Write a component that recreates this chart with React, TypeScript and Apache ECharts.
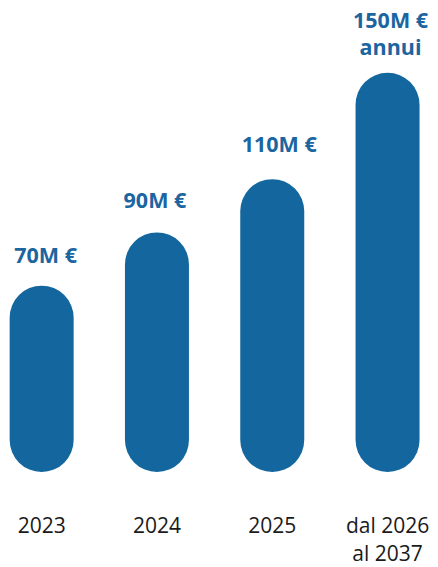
import React, { useEffect, useRef } from "react";
import * as echarts from "echarts";

const categories = ["2023", "2024", "2025", "dal 2026\nal 2037"];
const values = [70, 90, 110, 150];
const valueLabels = ["70M €", "90M €", "110M €", "150M €\nannui"];

const labelDistance = [18, 19, 22, 13];
const labelShiftX = [4, -2, 7, 3];

const SHIFT = 30;

export default function App() {
  const ref = useRef<HTMLDivElement>(null);
  useEffect(() => {
    if (!ref.current) return;
    const chart = echarts.init(ref.current, null, { renderer: "svg" });
    chart.setOption({
      animation: false,
      grid: { left: 14, width: 461.2, top: 72.7, bottom: 93.7, containLabel: false },
      xAxis: {
        type: "category",
        data: categories,
        axisLine: { show: false },
        axisTick: { show: false },
        axisLabel: {
          margin: 39,
          fontFamily: "Open Sans",
          fontSize: 21,
          lineHeight: 28,
          color: "#1a1a1a",
        },
      },
      yAxis: {
        type: "value",
        min: 0,
        max: 150,
        show: false,
        splitLine: { show: false },
      },
      series: [
        {
          type: "bar",
          barWidth: 64,
          itemStyle: { color: "#13679e", borderRadius: 32 },
          data: values.map((v, i) => ({
            value: v,
            label: { distance: labelDistance[i], offset: [labelShiftX[i], 0] },
          })),
          label: {
            show: true,
            position: "top",
            fontFamily: "Open Sans",
            fontWeight: "bold",
            fontSize: 21.5,
            lineHeight: 27,
            color: "#1b65a0",
            formatter: (p: any) => valueLabels[p.dataIndex],
          },
        },
      ],
    });
    return () => chart.dispose();
  }, []);
  return (
    <div
      ref={ref}
      style={{ position: "absolute", left: -SHIFT, top: 0, width: 438 + SHIFT * 2, height: 567 }}
    />
  );
}
